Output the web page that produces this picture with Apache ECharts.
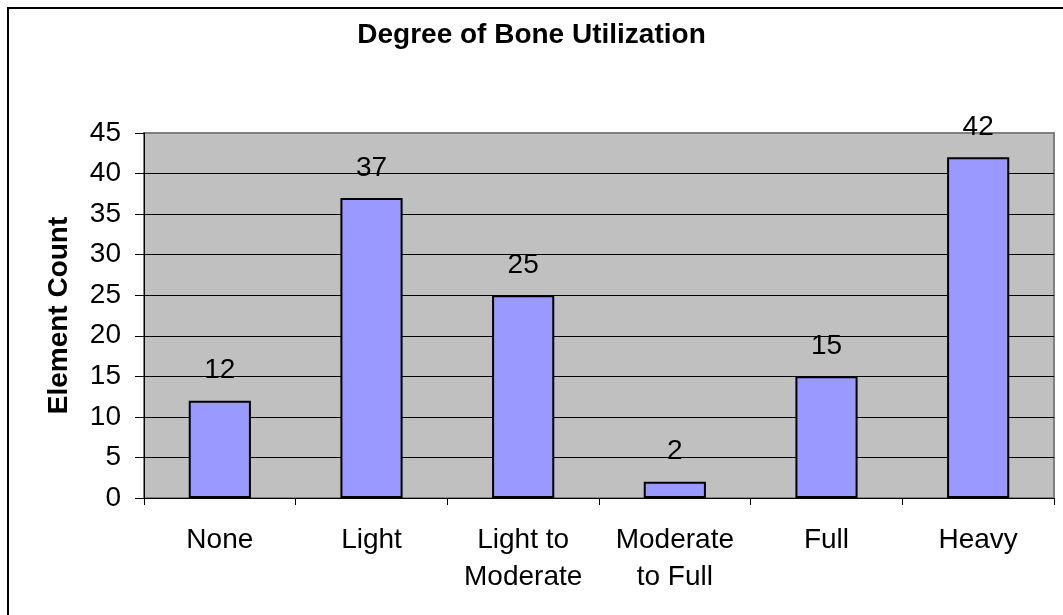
<!DOCTYPE html>
<html>
<head>
<meta charset="utf-8">
<script src="https://cdn.jsdelivr.net/npm/echarts@6/dist/echarts.min.js"></script>
<style>
  html, body { margin: 0; padding: 0; background: #fff; }
  #frame {
    position: absolute;
    left: 7px;
    top: 7px;
    width: 1100px;
    height: 700px;
    border-left: 2px solid #000;
    border-top: 2px solid #000;
  }
  #chart { position: absolute; left: 0; top: 0; width: 1063px; height: 615px; }
</style>
</head>
<body>
<div id="frame"></div>
<div id="chart"></div>
<script>
const categories = ['None', 'Light', 'Light to\nModerate', 'Moderate\nto Full', 'Full', 'Heavy']
const elementCounts = [12, 37, 25, 2, 15, 42]
const yTicks = [0, 5, 10, 15, 20, 25, 30, 35, 40, 45]

const font = 'Arial, "Liberation Sans", sans-serif'

const chart = echarts.init(document.getElementById('chart'), null, { renderer: 'canvas' })

// gridlines black except the top one, which is part of the gray plot border
const splitColors = yTicks.map((v, i) => (i === yTicks.length - 1 ? '#808080' : '#000000'))

chart.setOption({
  backgroundColor: 'transparent',
  animation: false,
  title: {
    text: 'Degree of Bone Utilization',
    left: 'center',
    top: 16,
    textStyle: { fontFamily: font, fontSize: 28, fontWeight: 'bold', color: '#000' },
  },
  grid: {
    left: 144,
    right: 9,
    top: 133,
    bottom: 117,
    show: true,
    backgroundColor: '#C0C0C0',
    borderColor: '#808080',
    borderWidth: 2,
  },
  xAxis: {
    type: 'category',
    data: categories,
    axisLine: { lineStyle: { color: '#000', width: 1 } },
    axisTick: { show: true, length: 7, lineStyle: { color: '#000' } },
    axisLabel: {
      fontFamily: font,
      fontSize: 28,
      color: '#000',
      margin: 24,
      lineHeight: 37,
      interval: 0,
    },
  },
  yAxis: {
    type: 'value',
    min: yTicks[0],
    max: yTicks[yTicks.length - 1],
    interval: 5,
    name: 'Element Count',
    nameLocation: 'middle',
    nameGap: 71,
    nameTextStyle: { fontFamily: font, fontSize: 28, fontWeight: 'bold', color: '#000' },
    axisLine: { show: true, lineStyle: { color: '#000', width: 1 } },
    axisTick: { show: true, length: 9, lineStyle: { color: '#000' } },
    axisLabel: { fontFamily: font, fontSize: 28, color: '#000', margin: 23 },
    splitLine: { show: true, lineStyle: { color: splitColors, width: 1 } },
  },
  series: [
    {
      type: 'bar',
      data: elementCounts,
      barWidth: '41%',
      itemStyle: { color: '#9999FF', borderColor: '#000', borderWidth: 2 },
      label: {
        show: true,
        position: 'top',
        distance: 16,
        fontFamily: font,
        fontSize: 28,
        color: '#000',
      },
    },
  ],
})
</script>
</body>
</html>
